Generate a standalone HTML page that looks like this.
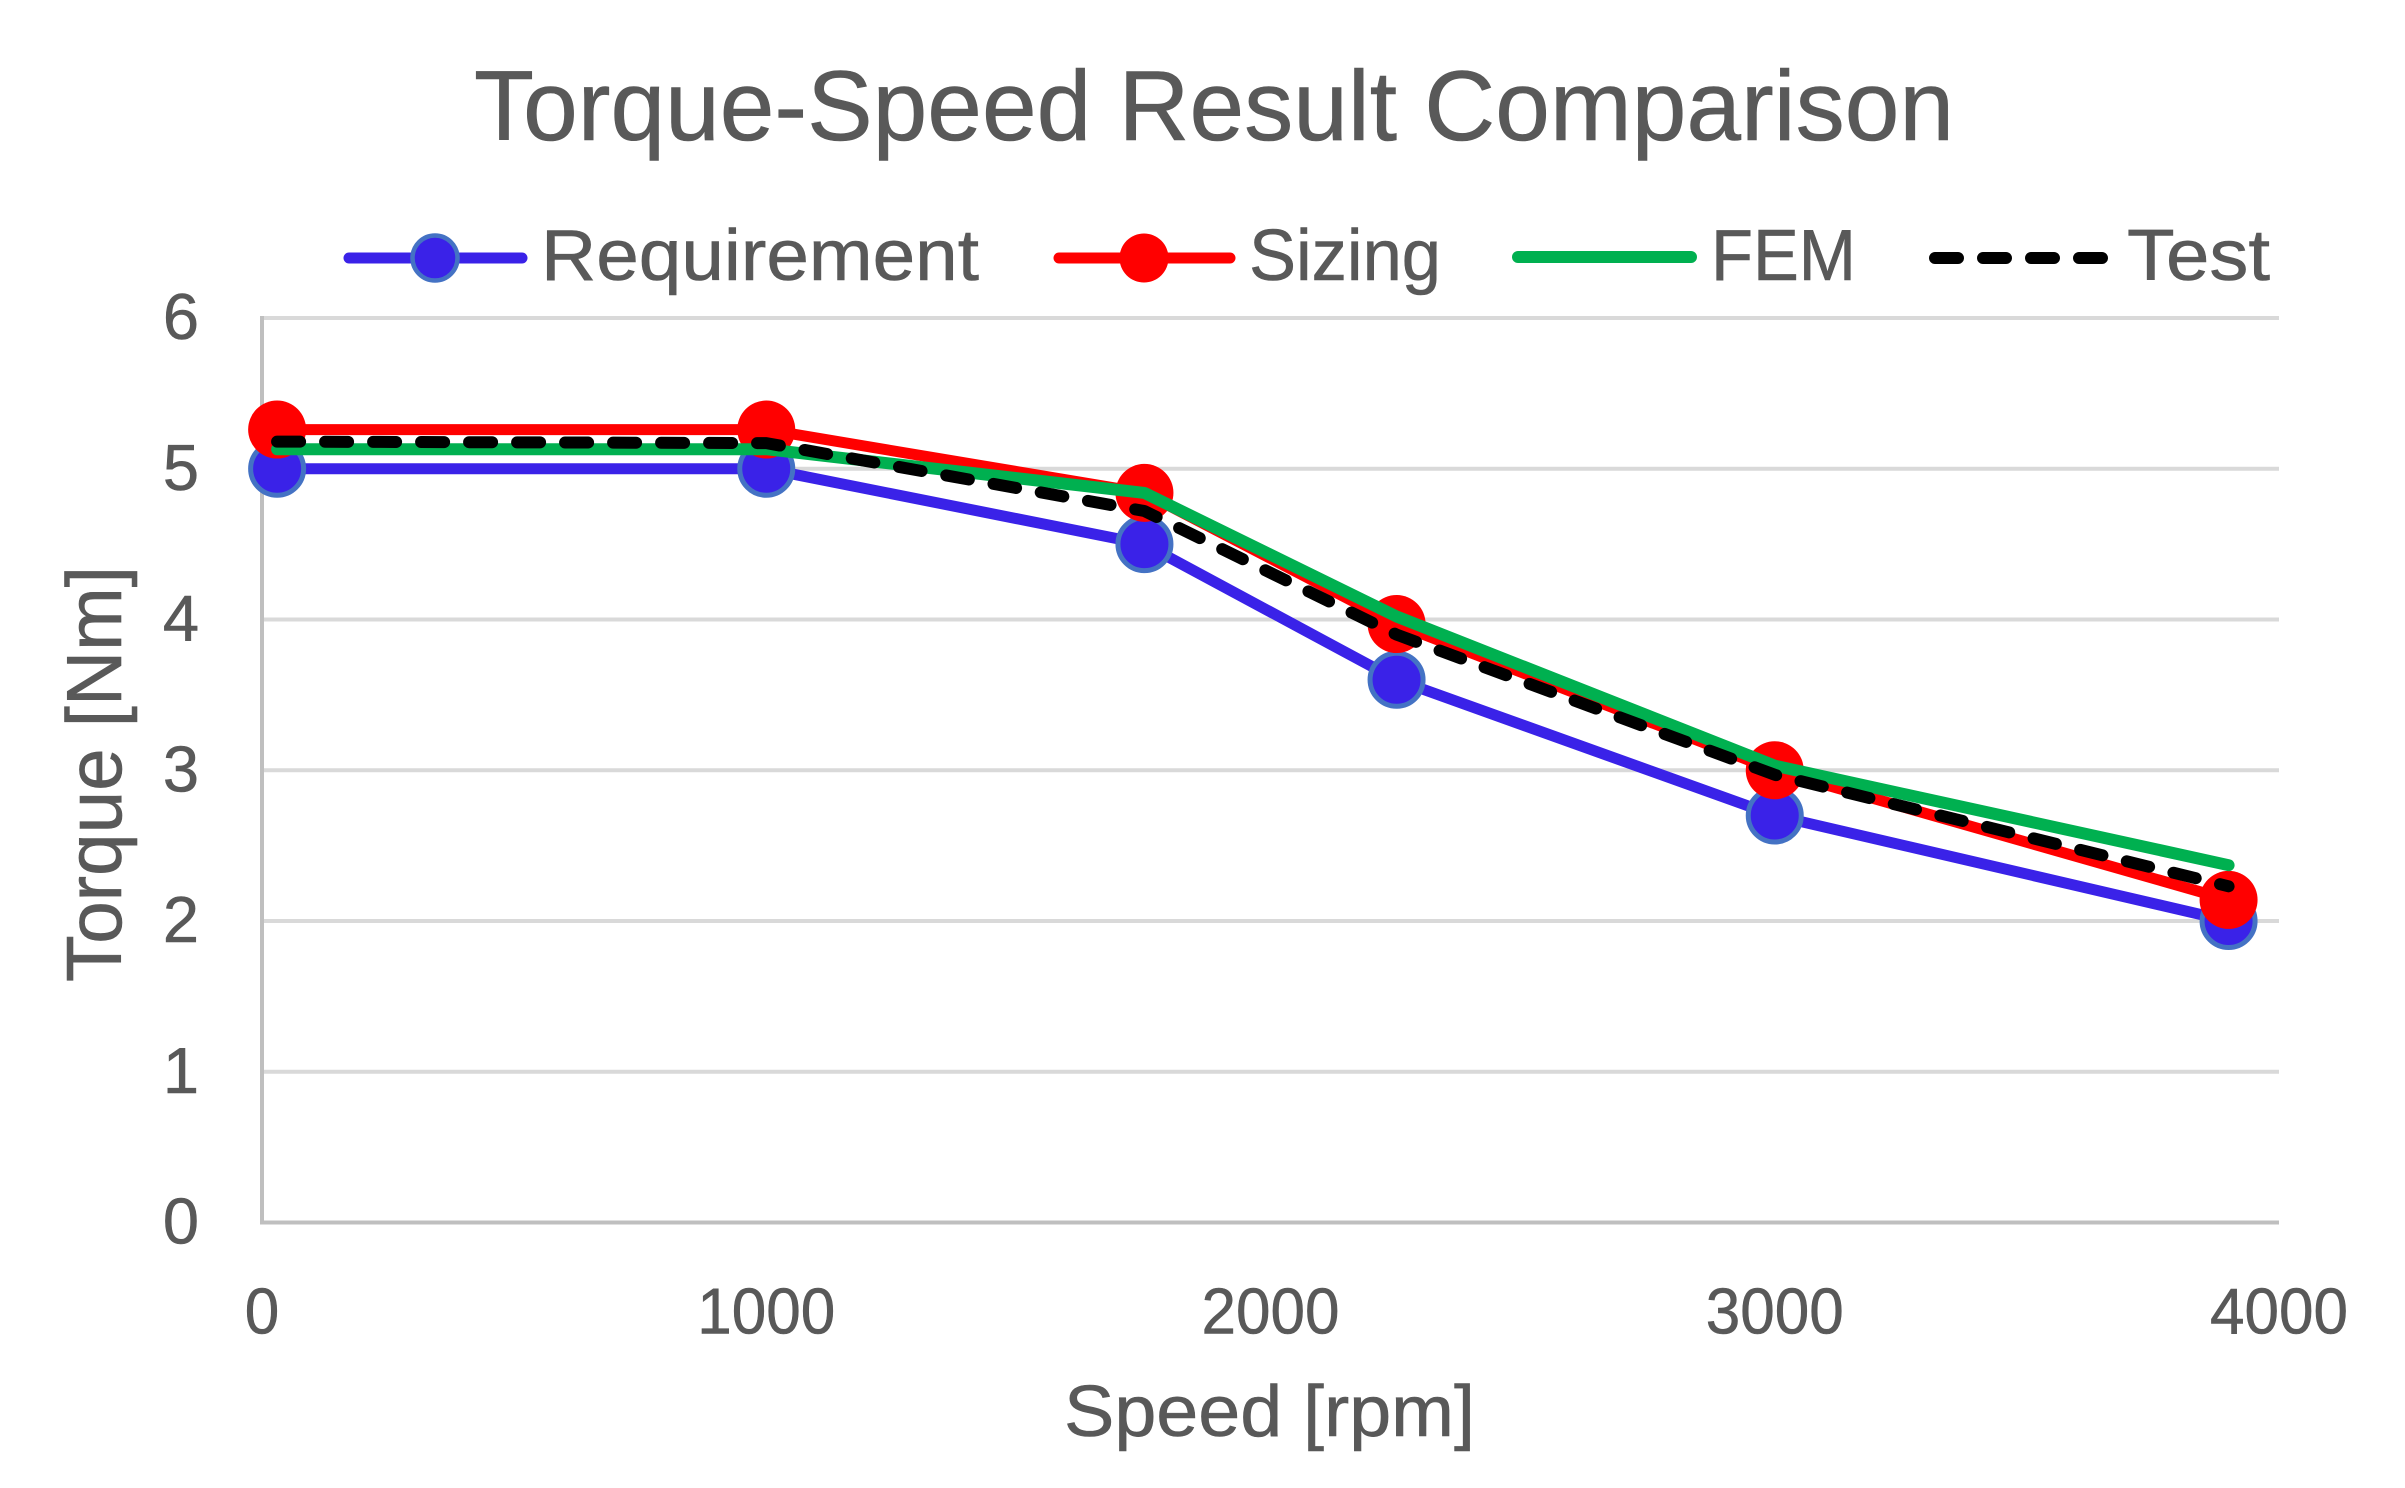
<!DOCTYPE html>
<html lang="en">
<head>
<meta charset="utf-8">
<title>Torque-Speed Result Comparison</title>
<style>
  html, body { margin: 0; padding: 0; background: #ffffff; }
  svg { display: block; }
  text { font-family: "Liberation Sans", sans-serif; fill: #595959; stroke: #595959; stroke-width: 0.6px; }
</style>
</head>
<body>
<svg id="chart" xmlns="http://www.w3.org/2000/svg" width="2405" height="1488" viewBox="0 0 2405 1488">
  <rect x="0" y="0" width="2405" height="1488" fill="#ffffff"/>
  <text x="474" y="140" font-size="99" textLength="1480" lengthAdjust="spacingAndGlyphs">Torque-Speed Result Comparison</text>

  <g>
    <g>
      <line x1="349" y1="258" x2="522" y2="258" stroke="#3A22E8" stroke-width="11" stroke-linecap="round"/>
      <circle cx="435" cy="258" r="22.5" fill="#3A22E8" stroke="#4472C4" stroke-width="4.5"/>
      <text x="541" y="280" font-size="72" textLength="438" lengthAdjust="spacingAndGlyphs">Requirement</text>
    </g>
    <g>
      <line x1="1059" y1="258" x2="1230" y2="258" stroke="#FF0000" stroke-width="11" stroke-linecap="round"/>
      <circle cx="1144" cy="258" r="24.5" fill="#FF0000"/>
      <text x="1249" y="280" font-size="72" textLength="192" lengthAdjust="spacingAndGlyphs">Sizing</text>
    </g>
    <g>
      <line x1="1518" y1="257" x2="1691" y2="257" stroke="#00B050" stroke-width="12" stroke-linecap="round"/>
      <text x="1711" y="280" font-size="72" textLength="145" lengthAdjust="spacingAndGlyphs">FEM</text>
    </g>
    <g>
      <line x1="1935" y1="258" x2="2104" y2="258" stroke="#000000" stroke-width="12" stroke-linecap="round" stroke-dasharray="23 25"/>
      <text x="2127" y="280" font-size="72" textLength="143" lengthAdjust="spacingAndGlyphs">Test</text>
    </g>
  </g>

  <g id="grid"></g>
  <g id="axes"></g>
  <g id="y-ticks"></g>
  <g id="x-ticks"></g>
  <g id="series"></g>

  <text x="1064" y="1436" font-size="72" textLength="411" lengthAdjust="spacingAndGlyphs">Speed [rpm]</text>
  <text transform="translate(121 982) rotate(-90)" x="0" y="0" font-size="78" textLength="416" lengthAdjust="spacingAndGlyphs">Torque [Nm]</text>
</svg>

<script>
var speeds = [30, 1000, 1750, 2250, 3000, 3900];
var requirementValues = [5, 5, 4.5, 3.6, 2.7, 2];
var sizingValues = [5.26, 5.26, 4.84, 3.97, 3.0, 2.14];
var femValues = [5.13, 5.13, 4.84, 4.02, 3.03, 2.37];
var testValues = [5.18, 5.17, 4.72, 3.9, 2.97, 2.23];
var yTickValues = [0, 1, 2, 3, 4, 5, 6];
var xTickValues = [0, 1000, 2000, 3000, 4000];

var SVG_NS = 'http://www.w3.org/2000/svg';
var plotLeft = 262, plotRight = 2279, plotTop = 318, plotBottom = 1222.5;
var xMax = 4000, yMax = 6;

function xScale(v) { return plotLeft + (v / xMax) * (plotRight - plotLeft); }
function yScale(v) { return plotBottom - (v / yMax) * (plotBottom - plotTop); }
function make(tag, parent) {
  var el = document.createElementNS(SVG_NS, tag);
  parent.appendChild(el);
  return el;
}
function linePoints(values) {
  return values.map(function (v, i) {
    return xScale(speeds[i]).toFixed(1) + ',' + yScale(v).toFixed(1);
  }).join(' ');
}

var grid = document.getElementById('grid');
var axes = document.getElementById('axes');
var yTicksGroup = document.getElementById('y-ticks');
var xTicksGroup = document.getElementById('x-ticks');
var seriesGroup = document.getElementById('series');

yTickValues.forEach(function (t) {
  if (t !== 0) {
    var g = make('line', grid);
    
    
    g.setAttribute('x1', plotLeft);
    g.setAttribute('x2', plotRight);
    g.setAttribute('y1', yScale(t));
    g.setAttribute('y2', yScale(t));
    g.setAttribute('stroke', '#D9D9D9');
    g.setAttribute('stroke-width', '4');
  }
  var label = make('text', yTicksGroup);
  
  
  label.setAttribute('x', 181);
  label.setAttribute('y', yScale(t) + 21);
  label.setAttribute('font-size', '65');
  label.setAttribute('text-anchor', 'middle');
  label.textContent = String(t);
});

xTickValues.forEach(function (t) {
  var label = make('text', xTicksGroup);
  
  
  label.setAttribute('x', xScale(t));
  label.setAttribute('y', 1333.5);
  label.setAttribute('font-size', '65');
  label.setAttribute('text-anchor', 'middle');
  label.setAttribute('textLength', String(t).length * 34.5);
  label.setAttribute('lengthAdjust', 'spacingAndGlyphs');
  label.textContent = String(t);
});

var yAxisLine = make('line', axes);


yAxisLine.setAttribute('x1', plotLeft);
yAxisLine.setAttribute('x2', plotLeft);
yAxisLine.setAttribute('y1', plotTop - 2);
yAxisLine.setAttribute('y2', plotBottom + 2);
yAxisLine.setAttribute('stroke', '#BFBFBF');
yAxisLine.setAttribute('stroke-width', '4');

var xAxisLine = make('line', axes);


xAxisLine.setAttribute('x1', plotLeft);
xAxisLine.setAttribute('x2', plotRight);
xAxisLine.setAttribute('y1', plotBottom);
xAxisLine.setAttribute('y2', plotBottom);
xAxisLine.setAttribute('stroke', '#BFBFBF');
xAxisLine.setAttribute('stroke-width', '4');

function drawLine(values, name, color, width, dash) {
  var line = make('polyline', seriesGroup);
  
  
  line.setAttribute('points', linePoints(values));
  line.setAttribute('fill', 'none');
  line.setAttribute('stroke', color);
  line.setAttribute('stroke-width', width);
  line.setAttribute('stroke-linecap', 'round');
  line.setAttribute('stroke-linejoin', 'round');
  if (dash) { line.setAttribute('stroke-dasharray', dash); }
}
function drawMarkers(values, name, fill, stroke) {
  values.forEach(function (v, i) {
    var c = make('circle', seriesGroup);
    
    
    c.setAttribute('cx', xScale(speeds[i]));
    c.setAttribute('cy', yScale(v));
    c.setAttribute('r', stroke ? 26.5 : 29);
    c.setAttribute('fill', fill);
    if (stroke) {
      c.setAttribute('stroke', stroke);
      c.setAttribute('stroke-width', '5');
    }
  });
}

drawLine(requirementValues, 'requirement', '#3A22E8', 11);
drawMarkers(requirementValues, 'requirement', '#3A22E8', '#4472C4');
drawLine(sizingValues, 'sizing', '#FF0000', 11);
drawMarkers(sizingValues, 'sizing', '#FF0000');
drawLine(femValues, 'fem', '#00B050', 12);
drawLine(testValues, 'test', '#000000', 12, '23 25');
</script>
</body>
</html>
